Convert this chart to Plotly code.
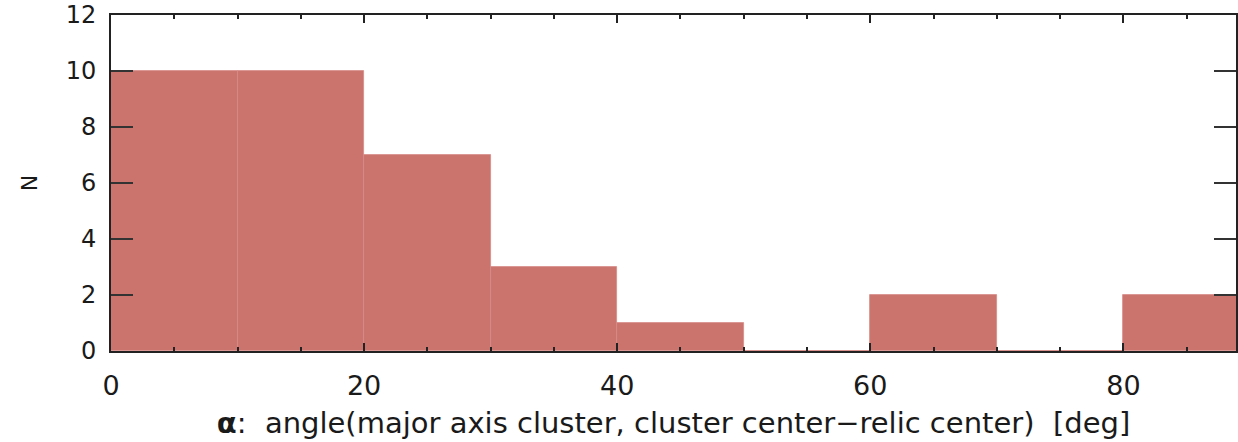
import plotly.graph_objects as go

# Histogram data: bin edges (deg) and counts
bin_left = [0, 10, 20, 30, 40, 50, 60, 70, 80]
bin_width = 10
counts = [10, 10, 7, 3, 1, 0, 2, 0, 2]

x_ticks = [0, 20, 40, 60, 80]
y_ticks = [0, 2, 4, 6, 8, 10, 12]

FONT = "DejaVu Sans"
BAR = "#CB746E"

fig = go.Figure()
fig.add_trace(go.Bar(
    x=[b + bin_width / 2 for b in bin_left],
    y=counts,
    width=[bin_width] * len(bin_left),
    marker=dict(color=BAR, line=dict(color="#D58A85", width=0.8)),
    hoverinfo="x+y",
))

fig.update_layout(
    width=1238, height=442,
    margin=dict(l=111, r=0, t=15, b=91),
    plot_bgcolor="white", paper_bgcolor="white",
    showlegend=False,
    font=dict(family=FONT, color="#1a1a1a"),
    bargap=0,
)
fig.update_xaxes(
    range=[0, 88.9],
    tickvals=x_ticks,
    ticks="inside", ticklen=8, tickwidth=1.5, tickcolor="#222",
    minor=dict(dtick=5, tick0=0, ticks="inside", ticklen=4, tickwidth=1.5, tickcolor="#222"),
    showline=True, linecolor="#222", linewidth=2, mirror="ticks",
    showgrid=False, zeroline=False,
    tickfont=dict(size=27, family=FONT, color="#1a1a1a"),
    ticklabelstandoff=10,
    title=dict(text="<b>α</b>:  angle(major axis cluster, cluster center−relic center)  [deg]",
               font=dict(size=29, family=FONT, color="#1a1a1a"), standoff=12),
)
fig.update_yaxes(
    range=[0, 12],
    tickvals=y_ticks,
    ticks="inside", ticklen=22, tickwidth=1.5, tickcolor="#333",
    showline=True, linecolor="#222", linewidth=2, mirror="ticks",
    showgrid=False, zeroline=False,
    tickfont=dict(size=24, family=FONT, color="#1a1a1a"),
    ticklabelstandoff=8,
    title=dict(text="N", font=dict(size=22, family=FONT, color="#1a1a1a"), standoff=22),
)

fig.write_html("out.html")
